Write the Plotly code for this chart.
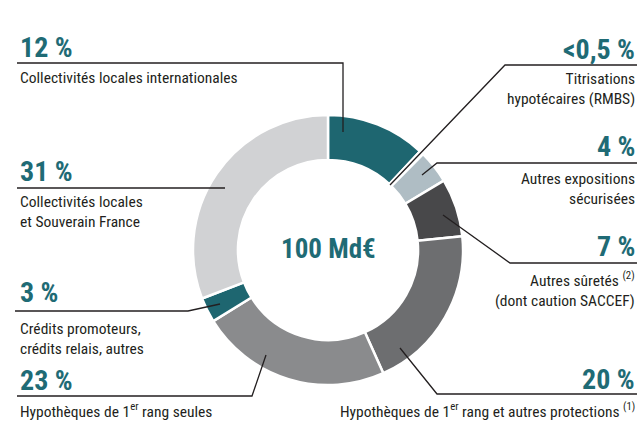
import plotly.graph_objects as go

# ---- data ----
categories = [
    "Collectivités locales internationales",
    "Titrisations hypotécaires (RMBS)",
    "Autres expositions sécurisées",
    "Autres sûretés (dont caution SACCEF)",
    "Hypothèques de 1er rang et autres protections",
    "Hypothèques de 1er rang seules",
    "Crédits promoteurs, crédits relais, autres",
    "Collectivités locales et Souverain France",
]
values = [12, 0.5, 4, 7, 20, 23, 3, 31]
pct_labels = ["12 %", "<0,5 %", "4 %", "7 %", "20 %", "23 %", "3 %", "31 %"]
desc_labels = [
    "Collectivités locales internationales",
    "Titrisations<br>hypotécaires (RMBS)",
    "Autres expositions<br>sécurisées",
    "Autres sûretés <sup>(2)</sup><br>(dont caution SACCEF)",
    "Hypothèques de 1<sup>er</sup> rang et autres protections <sup>(1)</sup>",
    "Hypothèques de 1<sup>er</sup> rang seules",
    "Crédits promoteurs,<br>crédits relais, autres",
    "Collectivités locales<br>et Souverain France",
]
colors = ["#1E6670", "#FFFFFF", "#AFBDC4", "#48484A", "#6D6E70", "#8A8B8D", "#1E6670", "#D1D2D4"]
total_label = "100 Md€"

# ---- layout helpers (pixel -> paper) ----
W, H = 639, 423
def px(x): return x / W
def py(y): return 1 - y / H

TEAL = "#1F6B75"
DARK = "#231F20"
COND = "Roboto Condensed, Liberation Sans, sans-serif"

fig = go.Figure(go.Pie(
    labels=categories, values=values, sort=False, direction="clockwise", rotation=0,
    hole=0.667, marker=dict(colors=colors, line=dict(color="white", width=2.5)),
    textinfo="none", hoverinfo="label+percent", showlegend=False,
    domain=dict(x=[px(193), px(463)], y=[py(385), py(115)]),
))

# label placement: (side, x, pct_y, desc_y)
placements = [
    ("left", 18, 47, 78),
    ("right", 637, 50, 89),
    ("right", 637, 147, 189),
    ("right", 637, 247, 289),
    ("right", 637, 379, 410),
    ("left", 18, 380, 410),
    ("left", 18, 292, 339),
    ("left", 18, 172, 212),
]
leaders = [
    [(17, 63), (343, 63), (343, 132)],
    [(637, 65), (505, 65), (390, 185)],
    [(637, 163), (437, 163), (422, 175)],
    [(637, 263), (510, 263), (443, 215)],
    [(637, 394), (437, 394), (400, 348)],
    [(17, 396), (252, 396), (266, 355)],
    [(15, 311), (188, 311), (220, 304)],
    [(17, 188), (225, 188)],
]

annotations = []
for (side, x, ypct, ydesc), pct, desc in zip(placements, pct_labels, desc_labels):
    annotations.append(dict(
        x=px(x), y=py(ypct), xref="paper", yref="paper", text=f"<b>{pct}</b>",
        showarrow=False, xanchor=side, yanchor="middle", align=side,
        font=dict(family=COND, size=28, color=TEAL)))
    annotations.append(dict(
        x=px(x), y=py(ydesc), xref="paper", yref="paper", text=desc,
        showarrow=False, xanchor=side, yanchor="middle", align=side,
        font=dict(family=COND, size=15.5, color=DARK)))
annotations.append(dict(
    x=px(328), y=py(249), xref="paper", yref="paper", text=f"<b>{total_label}</b>",
    showarrow=False, xanchor="center", yanchor="middle",
    font=dict(family=COND, size=27, color=TEAL)))

shapes = []
for pts in leaders:
    path = "M " + " L ".join(f"{px(a):.5f},{py(b):.5f}" for a, b in pts)
    shapes.append(dict(type="path", path=path, xref="paper", yref="paper",
                       line=dict(color=DARK, width=1.3)))

fig.update_layout(
    width=W, height=H, margin=dict(l=0, r=0, t=0, b=0),
    paper_bgcolor="white", plot_bgcolor="white",
    annotations=annotations, shapes=shapes,
)
fig.write_html("out.html", config={"displayModeBar": False},
               post_script="document.body.style.margin='0';")
